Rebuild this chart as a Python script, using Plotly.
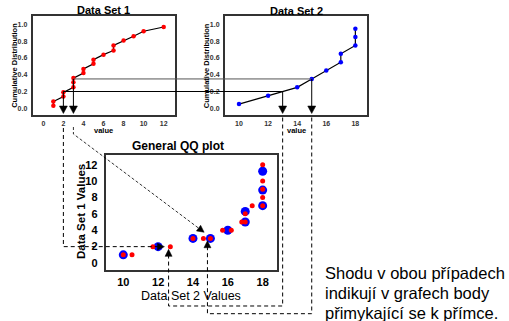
import plotly.graph_objects as go

# ---------------- data ----------------
ds1_values = [1, 1, 2, 2, 3, 3, 3, 4, 4, 5, 5, 6, 7, 7, 8, 9, 10, 12]
ds1_cdf = [0.03, 0.08, 0.14, 0.19, 0.25, 0.31, 0.36, 0.42, 0.47, 0.53, 0.58,
           0.64, 0.69, 0.75, 0.81, 0.86, 0.92, 0.97]
ds2_values = [10, 12, 14, 15, 16, 17, 17, 18, 18, 18]
ds2_cdf = [0.05, 0.15, 0.25, 0.35, 0.45, 0.55, 0.65, 0.75, 0.85, 0.95]

qq_blue_x = [10, 12, 14, 15, 16, 17, 17, 18, 18, 18]
qq_blue_y = [1, 2, 3, 3, 4, 5, 6.3, 7, 8.9, 11.2]
qq_red_x = [10, 10.5, 11.7, 12.7, 14, 14.6, 15, 15.7, 16.2, 16.8, 17, 17, 17.4,
            18, 18, 18, 18, 18]
qq_red_y = [1, 1, 2, 2, 3, 3, 3, 4, 4, 5, 5, 6, 7, 7, 8, 9, 10, 12]

ticks1 = [0, 2, 4, 6, 8, 10, 12]
ticks2 = [10, 12, 14, 16, 18]
ticks_cdf = [0.0, 0.2, 0.4, 0.6, 0.8, 1.0]
ticks_qq_x = [10, 12, 14, 16, 18]
ticks_qq_y = [0, 2, 4, 6, 8, 10, 12]

# quantile correspondences (value in set 1, probability, value in set 2)
link_low = (2, 0.2, 13)
link_high = (3, 0.35, 15)

caption = ["Shodu v obou případech", "indikují v grafech body",
           "přimykající se k přímce."]

# ---------------- layout geometry (pixels) ----------------
W, H = 509, 321
P1 = dict(l=32.7, r=175.0, t=15.7, b=115.3, xr=[-1.06, 13.13], yr=[-0.084, 1.105])
P2 = dict(l=225.0, r=367.0, t=15.7, b=115.3, xr=[9.037, 18.80], yr=[-0.084, 1.105])
PQ = dict(l=105.7, r=277.3, t=155.0, b=270.0, xr=[8.99, 18.84], yr=[-0.85, 13.18])


def dom(P):
    return [P["l"] / W, P["r"] / W], [1 - P["b"] / H, 1 - P["t"] / H]


def d2p(P, x=None, y=None):
    px = py = None
    if x is not None:
        px = P["l"] + (x - P["xr"][0]) / (P["xr"][1] - P["xr"][0]) * (P["r"] - P["l"])
    if y is not None:
        py = P["b"] - (y - P["yr"][0]) / (P["yr"][1] - P["yr"][0]) * (P["b"] - P["t"])
    return px, py


def pp(px, py):
    return px / W, 1 - py / H


FONT = "Liberation Sans, Arial, sans-serif"
fig = go.Figure()

# panel traces
fig.add_trace(go.Scatter(x=ds1_values, y=ds1_cdf, mode="lines+markers",
                         line=dict(color="black", width=1.2),
                         marker=dict(color="red", size=4.5), xaxis="x", yaxis="y",
                         showlegend=False))
fig.add_trace(go.Scatter(x=ds2_values, y=ds2_cdf, mode="lines+markers",
                         line=dict(color="black", width=1.2),
                         marker=dict(color="blue", size=4.5), xaxis="x2", yaxis="y2",
                         showlegend=False))
fig.add_trace(go.Scatter(x=qq_blue_x, y=qq_blue_y, mode="markers",
                         marker=dict(color="blue", size=9), xaxis="x3", yaxis="y3",
                         showlegend=False))
fig.add_trace(go.Scatter(x=qq_red_x, y=qq_red_y, mode="markers",
                         marker=dict(color="red", size=5), xaxis="x3", yaxis="y3",
                         showlegend=False))

small = dict(family=FONT, size=7, color="#333", weight="bold")
qqtick = dict(family=FONT, size=11, color="black", weight="bold")
box = dict(showline=True, mirror=True, linecolor="#333", linewidth=2,
           showgrid=False, zeroline=False, ticks="")

d1x, d1y = dom(P1)
d2x, d2y = dom(P2)
dqx, dqy = dom(PQ)
fig.update_layout(
    width=W, height=H, margin=dict(l=0, r=0, t=0, b=0),
    paper_bgcolor="white", plot_bgcolor="white",
    xaxis=dict(domain=d1x, range=P1["xr"], tickvals=ticks1, tickfont=small,
               ticklabelstandoff=0, anchor="y", **box),
    yaxis=dict(domain=d1y, range=P1["yr"], tickvals=ticks_cdf, tickformat=".1f",
               tickfont=small, ticklabelstandoff=2, anchor="x", **box),
    xaxis2=dict(domain=d2x, range=P2["xr"], tickvals=ticks2, tickfont=small,
                ticklabelstandoff=0, anchor="y2", **box),
    yaxis2=dict(domain=d2y, range=P2["yr"], tickvals=ticks_cdf, tickformat=".1f",
                tickfont=small, ticklabelstandoff=2, anchor="x2", **box),
    xaxis3=dict(domain=dqx, range=PQ["xr"], tickvals=ticks_qq_x, tickfont=qqtick,
                ticklabelstandoff=1, anchor="y3", **box),
    yaxis3=dict(domain=dqy, range=PQ["yr"], tickvals=ticks_qq_y, tickfont=qqtick,
                ticklabelstandoff=4, anchor="x3", **box),
)

shapes = []
annots = []


def seg(pts, color="black", width=1, dash="solid"):
    path = "M " + " L ".join("%.5f,%.5f" % pp(x, y) for x, y in pts)
    shapes.append(dict(type="path", path=path, xref="paper", yref="paper",
                       line=dict(color=color, width=width, dash=dash),
                       fillcolor="rgba(0,0,0,0)"))


def tri(tip, direction, length=7, half=4):
    tx, ty = tip
    dx, dy = direction
    n = (dx * dx + dy * dy) ** 0.5
    dx, dy = dx / n, dy / n
    bx, by = tx - dx * length, ty - dy * length
    nx, ny = -dy, dx
    pts = [(tx, ty), (bx + nx * half, by + ny * half), (bx - nx * half, by - ny * half)]
    path = "M " + " L ".join("%.5f,%.5f" % pp(x, y) for x, y in pts) + " Z"
    shapes.append(dict(type="path", path=path, xref="paper", yref="paper",
                       line=dict(color="black", width=0.5), fillcolor="black"))
    return bx, by


# solid connectors between the two CDF panels
for (v1, p, v2), col in [(link_low, "black"), (link_high, "#555")]:
    x1, yy = d2p(P1, v1, p)
    x2, _ = d2p(P2, v2, p)
    seg([(x1, yy), (x2, yy)], color=col, width=1)
    tip_y = P1["b"] - 1.8
    for xx in (x1, x2):
        seg([(xx, yy), (xx, tip_y - 6)], color="black", width=1)
        tri((xx, tip_y), (0, 1), length=7.5, half=4)

dash = "4px,3px"
# dashed path A: set1 value 2 -> QQ horizontal arrow
xa, _ = d2p(P1, link_low[0])
tipA = d2p(PQ, 12.36, 2.0)
seg([(xa, 128.0), (xa, tipA[1]), (tipA[0] - 6, tipA[1])], dash=dash)
tri(tipA, (1, 0), length=7, half=3.5)

# dashed path B: set1 value 3 -> QQ diagonal arrow
xb, _ = d2p(P1, link_high[0])
tipB = d2p(PQ, 14.64, 3.75)
start = (xb, 134.0)
dirB = (tipB[0] - start[0], tipB[1] - start[1])
nB = (dirB[0] ** 2 + dirB[1] ** 2) ** 0.5
baseB = (tipB[0] - dirB[0] / nB * 6, tipB[1] - dirB[1] / nB * 6)
seg([(xb, 127.0), start, baseB], dash="3px,2px", width=0.8)
tri(tipB, dirB, length=7, half=3.5)

# dashed path C: set2 value 13 -> QQ upward arrow
xc, _ = d2p(P2, link_low[2])
tipC = d2p(PQ, 12.6, 1.67)
seg([(xc, 117.5), (xc, 306.0), (tipC[0], 306.0), (tipC[0], tipC[1] + 6)], dash=dash)
tri(tipC, (0, -1), length=7, half=3.5)

# dashed path D: set2 value 15 -> QQ upward arrow
xd, _ = d2p(P2, link_high[2])
tipD = d2p(PQ, 14.83, 2.72)
seg([(xd, 117.5), (xd, 313.7), (tipD[0], 313.7), (tipD[0], tipD[1] + 6)], dash=dash)
tri(tipD, (0, -1), length=7, half=3.5)


def text(t, px, py, size, bold=False, angle=0, xanchor="center", color="black"):
    annots.append(dict(text=("<b>%s</b>" % t) if bold else t, x=px / W, y=1 - py / H,
                       xref="paper", yref="paper", showarrow=False, textangle=angle,
                       xanchor=xanchor, yanchor="middle",
                       font=dict(family=FONT, size=size, color=color)))


text("Data Set 1", 103.5, 10.5, 11, bold=True)
text("Data Set 2", 296.0, 11.0, 11, bold=True)
text("General QQ plot", 177.7, 146.0, 12, bold=True)
text("value", 103.5, 131.0, 7.5, bold=True)
text("value", 296.0, 131.0, 7.5, bold=True)
text("Cumulative Distribution", 14.3, 65.5, 7.5, bold=True, angle=-90)
text("Cumulative Distribution", 206.7, 65.5, 7.5, bold=True, angle=-90)
text("Data Set 1 Values", 81.0, 212.0, 11.5, bold=True, angle=-90)
text("Data Set 2 Values", 191.0, 295.5, 12.5)
for i, line in enumerate(caption):
    text(line, 323.0, 272.5 + 20 * i, 16.5, xanchor="left")

fig.update_layout(shapes=shapes, annotations=annots)
fig.write_html("out.html", config={"displayModeBar": False})
